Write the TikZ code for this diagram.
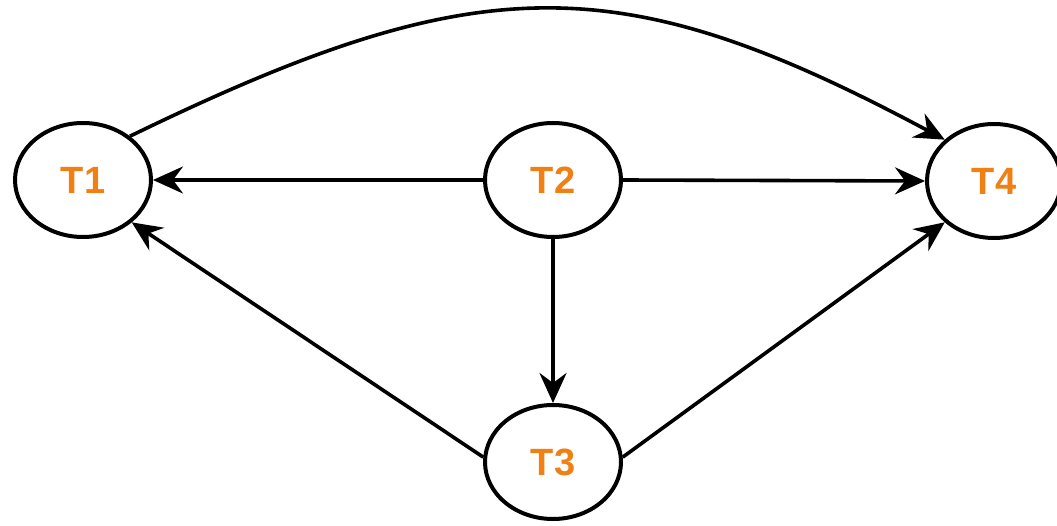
\documentclass[tikz,border=0pt]{standalone}
\usepackage{fontspec}
\setmainfont{Liberation Sans}
\usetikzlibrary{arrows.meta,shapes.geometric}
\definecolor{taskorange}{RGB}{240,128,20}
\tikzset{
  task/.style={draw=black, line width=4pt, ellipse, fill=white,
    minimum width=136pt, minimum height=114pt, inner sep=0pt,
    text=taskorange, font=\fontsize{38}{40}\selectfont\bfseries},
  link/.style={draw=black, line width=3.6pt,
    -{Stealth[length=30pt,width=27pt,inset=10pt]}}
}
\begin{document}
\begin{tikzpicture}[x=1pt,y=-1pt]
  \useasboundingbox (0,0) rectangle (1057,526);
  \node[task] (T1) at (83,180) {T1};
  \node[task] (T2) at (553,180) {T2};
  \node[task] (T3) at (553,462) {T3};
  \node[task, minimum width=134pt] (T4) at (994,181) {T4};

  \draw[link] (T2.west) -- (T1.east);
  \draw[link] (T2.east) -- (T4.west);
  \draw[link] (T2.south) -- (T3.north);
  \draw[link] (T3.176) -- (T1.-41);
  \draw[link] (T3.4) -- (T4.-140);
  \draw[link] (T1.43) .. controls (480,-34) and (620,-34) .. (T4.140);
\end{tikzpicture}
\end{document}
